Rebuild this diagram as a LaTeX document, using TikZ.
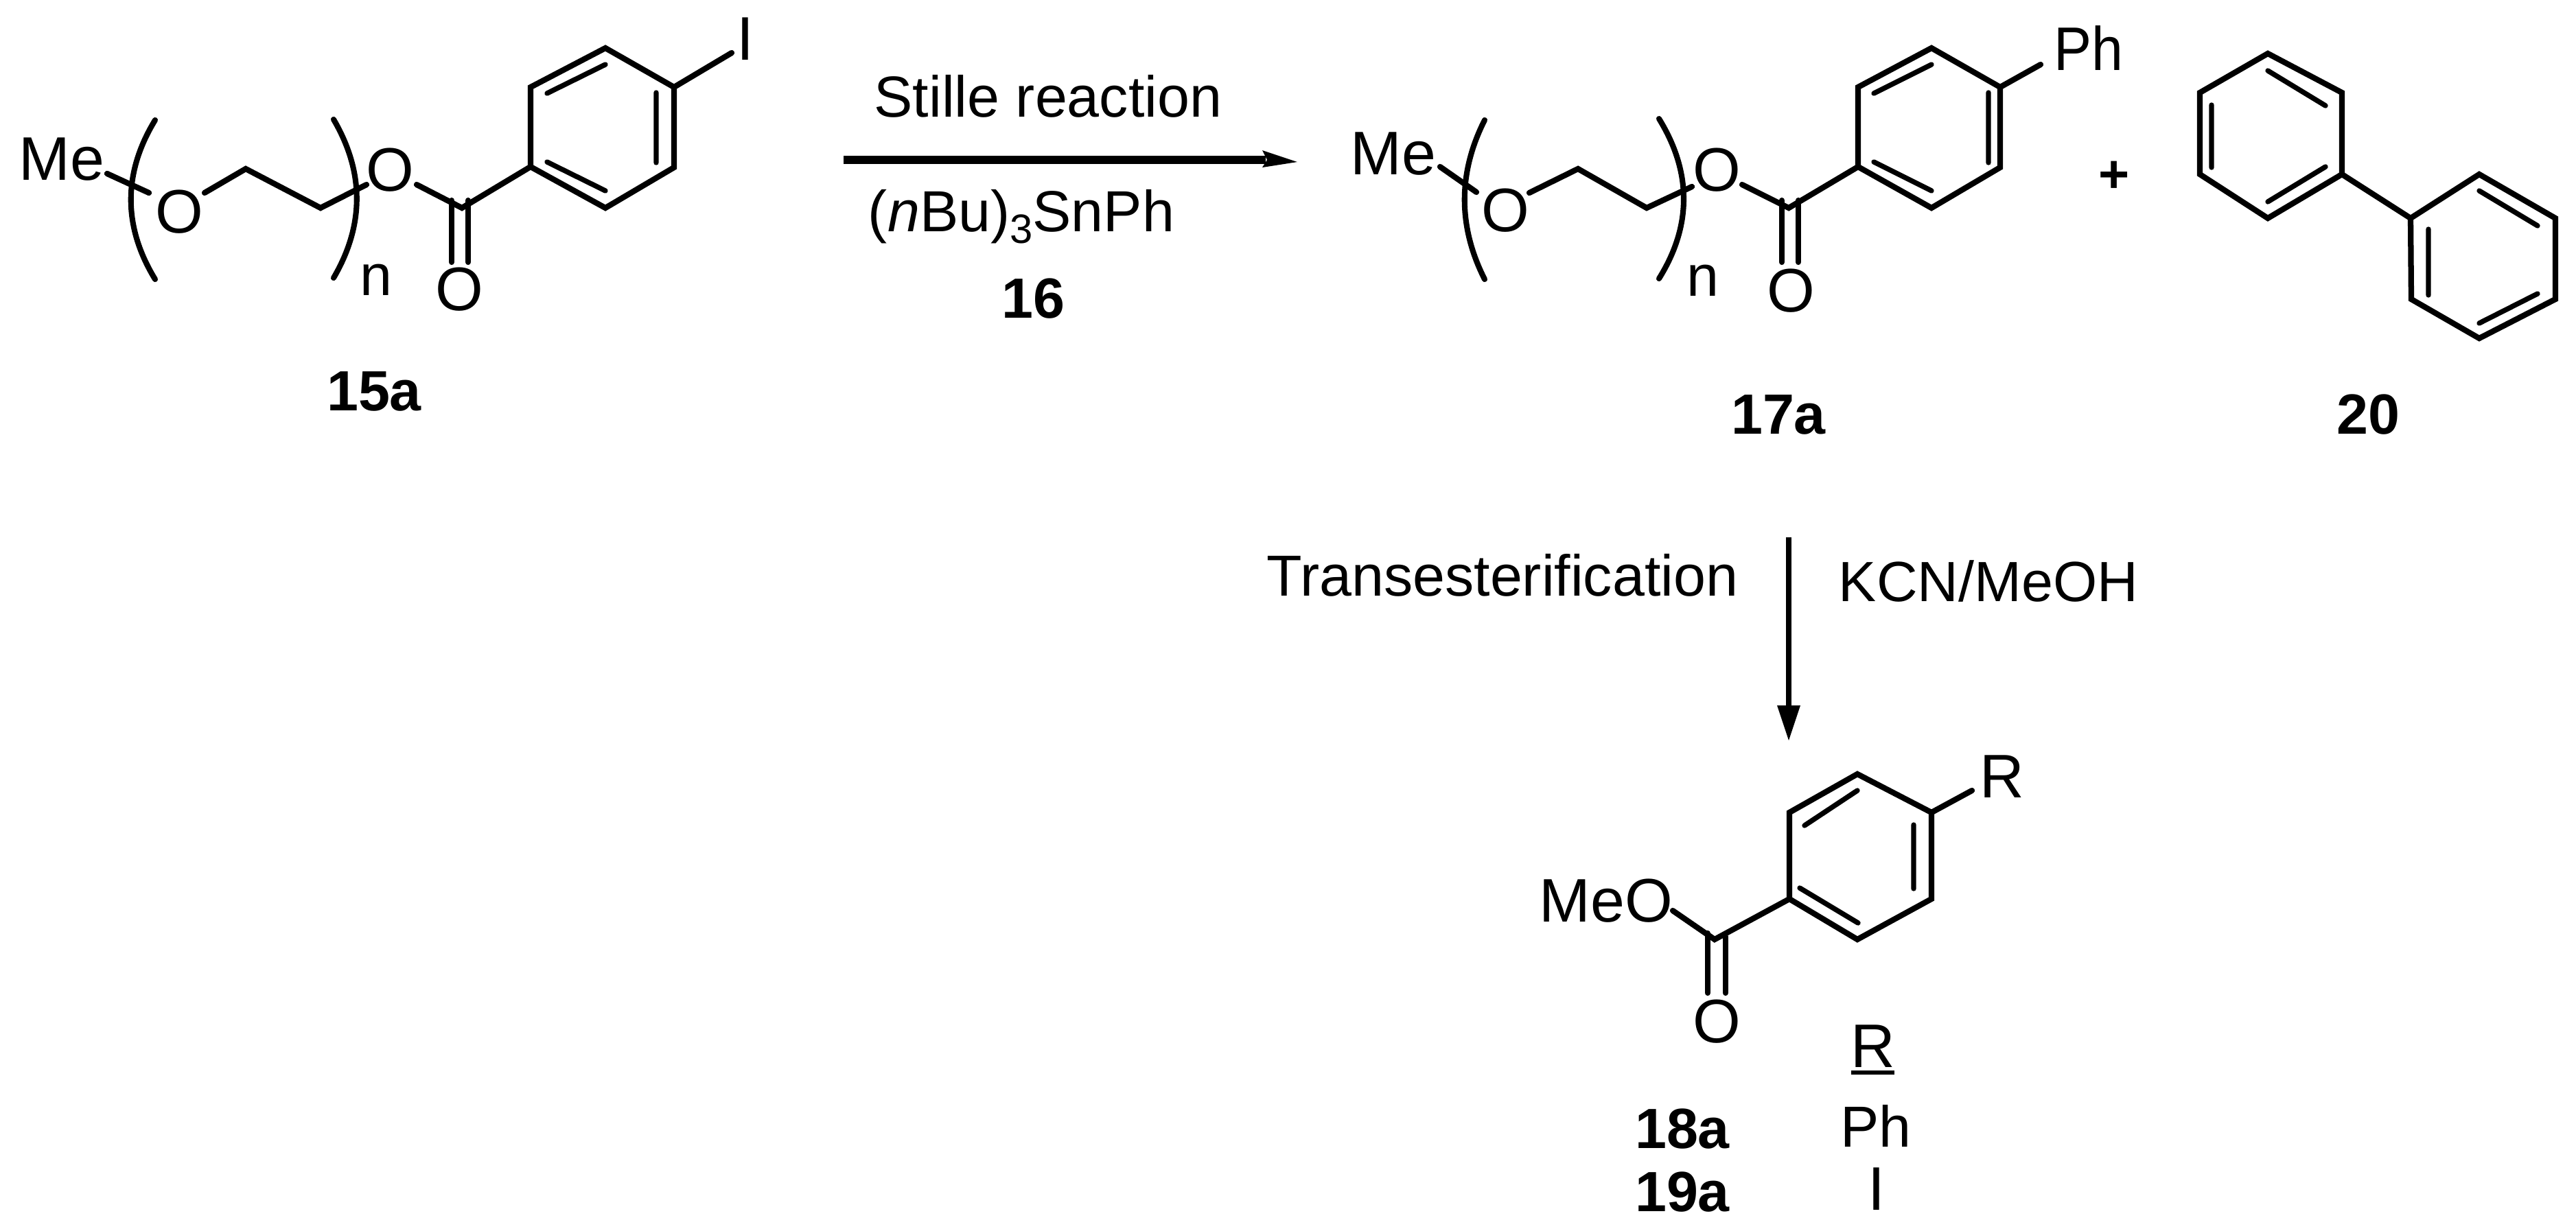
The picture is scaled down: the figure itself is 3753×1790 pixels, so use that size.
\documentclass[tikz,border=0pt]{standalone}
\usepackage{fontspec}
\setmainfont{Liberation Sans}
\tikzset{
  x=0.01cm,y=-0.01cm,
  bond/.style={line width=2.35pt,line cap=round,line join=miter,miter limit=10},
  innerbond/.style={line width=2.1pt,line cap=round},
  brack/.style={line width=2.3pt,line cap=round},
  txt/.style={anchor=base,inner sep=0pt,outer sep=0pt},
  lab/.style={txt,font=\fontsize{25.5}{25.5}\selectfont},
  labph/.style={txt,font=\fontsize{24}{24}\selectfont},
  rxn/.style={txt,font=\fontsize{24}{24}\selectfont},
  rxnb/.style={txt,font=\fontsize{23.5}{23.5}\selectfont},
  cmpd/.style={txt,font=\fontsize{23.5}{23.5}\selectfont\bfseries},
  plussign/.style={txt,font=\fontsize{22}{22}\selectfont\bfseries},
  thickarrow/.style={line width=3.5pt},
  thinarrow/.style={line width=2.4pt},
}
\begin{document}
\begin{tikzpicture}
\useasboundingbox (0,0) rectangle (3753,1790);
% ---------- 15a ----------
\coordinate (a1) at (882,70);  \coordinate (a2) at (982,127); \coordinate (a3) at (982,244);
\coordinate (a4) at (882,303); \coordinate (a5) at (773,243); \coordinate (a6) at (773,127);
\coordinate (ai1) at (882,94); \coordinate (ai2) at (797,136);
\coordinate (ai3) at (956,135);\coordinate (ai4) at (956,237);
\coordinate (ai5) at (797,236);\coordinate (ai6) at (882,278);
\coordinate (aI) at (1066,77);
\coordinate (aC) at (673,303); \coordinate (aOs) at (607,269);
\coordinate (aD1a) at (658,292); \coordinate (aD1b) at (658,382);
\coordinate (aD2a) at (682,292); \coordinate (aD2b) at (682,382);
\coordinate (ac1) at (298,281); \coordinate (ac2) at (358,246);
\coordinate (ac3) at (467,303); \coordinate (ac4) at (534,269);
\coordinate (am1) at (156,253); \coordinate (am2) at (217,281);
\coordinate (abl1) at (226,175); \coordinate (abla) at (179,252); \coordinate (ablb) at (179,330); \coordinate (abl2) at (226,407);
\coordinate (abr1) at (486,174); \coordinate (abra) at (531,251); \coordinate (abrb) at (531,328); \coordinate (abr2) at (486,405);
\draw[bond] (a1)--(a2)--(a3)--(a4)--(a5)--(a6)--cycle;
\draw[innerbond] (ai1)--(ai2) (ai3)--(ai4) (ai5)--(ai6);
\draw[bond] (a2)--(aI) (a5)--(aC)--(aOs);
\draw[bond] (aD1a)--(aD1b) (aD2a)--(aD2b);
\draw[bond] (ac1)--(ac2)--(ac3)--(ac4) (am1)--(am2);
\draw[brack] (abl1) .. controls (abla) and (ablb) .. (abl2);
\draw[brack] (abr1) .. controls (abra) and (abrb) .. (abr2);
\node[lab] (aMe) at (90,262) {Me};
\node[lab] (aO1) at (261,339) {O};
\node[lab] (aO2) at (568,278) {O};
\node[lab] (aO3) at (669,452) {O};
\node[lab] (aIt) at (1086,87) {I};
\node[labph] (an) at (548,430) {n};
\node[cmpd] (l15) at (545,598) {15a};
% ---------- Stille arrow ----------
\coordinate (s1) at (1229,233); \coordinate (s2) at (1844,233);
\coordinate (sh1) at (1839,219); \coordinate (sh2) at (1890,236); \coordinate (sh3) at (1839,244); \coordinate (sh4) at (1846,233);
\draw[thickarrow] (s1)--(s2);
\fill (sh1)--(sh2)--(sh3)--(sh4)--cycle;
\node[rxn] (t1) at (1527,170) {Stille reaction};
\node[rxn] (t2) at (1488,337) {(\textit{n}Bu)\raisebox{-5pt}{\fontsize{17}{17}\selectfont 3}SnPh};
\node[cmpd] (l16) at (1505,463) {16};
% ---------- 17a ----------
\coordinate (b1) at (2814,70);  \coordinate (b2) at (2914,127); \coordinate (b3) at (2914,244);
\coordinate (b4) at (2814,303); \coordinate (b5) at (2707,243); \coordinate (b6) at (2707,127);
\coordinate (bi1) at (2814,94); \coordinate (bi2) at (2730,136);
\coordinate (bi3) at (2897,135);\coordinate (bi4) at (2897,237);
\coordinate (bi5) at (2730,236);\coordinate (bi6) at (2814,278);
\coordinate (bPh) at (2973,94);
\coordinate (bC) at (2606,303); \coordinate (bOs) at (2538,269);
\coordinate (bD1a) at (2596,292); \coordinate (bD1b) at (2596,382);
\coordinate (bD2a) at (2620,292); \coordinate (bD2b) at (2620,382);
\coordinate (bc1) at (2228,281); \coordinate (bc2) at (2299,246);
\coordinate (bc3) at (2399,303); \coordinate (bc4) at (2465,272);
\coordinate (bm1) at (2098,243); \coordinate (bm2) at (2151,280);
\coordinate (bbl1) at (2163,175); \coordinate (bbla) at (2124,252); \coordinate (bblb) at (2124,330); \coordinate (bbl2) at (2163,407);
\coordinate (bbr1) at (2417,173); \coordinate (bbra) at (2465,251); \coordinate (bbrb) at (2465,329); \coordinate (bbr2) at (2417,406);
\draw[bond] (b1)--(b2)--(b3)--(b4)--(b5)--(b6)--cycle;
\draw[innerbond] (bi1)--(bi2) (bi3)--(bi4) (bi5)--(bi6);
\draw[bond] (b2)--(bPh) (b5)--(bC)--(bOs);
\draw[bond] (bD1a)--(bD1b) (bD2a)--(bD2b);
\draw[bond] (bc1)--(bc2)--(bc3)--(bc4) (bm1)--(bm2);
\draw[brack] (bbl1) .. controls (bbla) and (bblb) .. (bbl2);
\draw[brack] (bbr1) .. controls (bbra) and (bbrb) .. (bbr2);
\node[lab] (bMe) at (2030,254) {Me};
\node[lab] (bO1) at (2193,337) {O};
\node[lab] (bO2) at (2501,278) {O};
\node[lab] (bO3) at (2609,454) {O};
\node[lab] (bPht) at (3043,102) {\scalebox{.92}[1]{Ph}};
\node[labph] (bn) at (2481,431) {n};
\node[cmpd] (l17) at (2591,632) {17a};
% ---------- plus ----------
\node[plussign] (plus) at (3080,280) {+};
% ---------- 20 (biphenyl) ----------
\coordinate (c1) at (3304,78);  \coordinate (c2) at (3412,135); \coordinate (c3) at (3412,254);
\coordinate (c4) at (3304,318); \coordinate (c5) at (3205,254); \coordinate (c6) at (3205,135);
\coordinate (d1) at (3612,254); \coordinate (d2) at (3723,318); \coordinate (d3) at (3723,436);
\coordinate (d4) at (3612,493); \coordinate (d5) at (3513,436); \coordinate (d6) at (3512,318);
\coordinate (ci1) at (3304,103); \coordinate (ci2) at (3388,154);
\coordinate (ci3) at (3222,153); \coordinate (ci4) at (3222,244);
\coordinate (ci5) at (3304,294); \coordinate (ci6) at (3388,243);
\coordinate (di1) at (3612,278); \coordinate (di2) at (3697,329);
\coordinate (di3) at (3538,334); \coordinate (di4) at (3538,430);
\coordinate (di5) at (3612,471); \coordinate (di6) at (3697,428);
\draw[bond] (c1)--(c2)--(c3)--(c4)--(c5)--(c6)--cycle;
\draw[bond] (d1)--(d2)--(d3)--(d4)--(d5)--(d6)--cycle;
\draw[bond] (c3)--(d6);
\draw[innerbond] (ci1)--(ci2) (ci3)--(ci4) (ci5)--(ci6) (di1)--(di2) (di3)--(di4) (di5)--(di6);
\node[cmpd] (l20) at (3450,632) {20};
% ---------- vertical arrow ----------
\coordinate (v1) at (2606,783); \coordinate (v2) at (2606,1034);
\coordinate (vh1) at (2589,1028); \coordinate (vh2) at (2606,1079); \coordinate (vh3) at (2623,1028);
\draw[thinarrow] (v1)--(v2);
\fill (vh1)--(vh2)--(vh3)--cycle;
\node[rxn] (t3) at (2189,868) {Transesterification};
\node[rxnb] (t4) at (2897,876) {KCN/MeOH};
% ---------- 18a / 19a ----------
\coordinate (e1) at (2706,1128); \coordinate (e2) at (2814,1184); \coordinate (e3) at (2814,1310);
\coordinate (e4) at (2706,1369); \coordinate (e5) at (2607,1310); \coordinate (e6) at (2607,1184);
\coordinate (ei1) at (2706,1152); \coordinate (ei2) at (2629,1203);
\coordinate (ei3) at (2788,1202); \coordinate (ei4) at (2788,1295);
\coordinate (ei5) at (2622,1294); \coordinate (ei6) at (2707,1345);
\coordinate (eR) at (2873,1152);
\coordinate (eC) at (2498,1369); \coordinate (eOs) at (2437,1327);
\coordinate (eD1a) at (2488,1360); \coordinate (eD1b) at (2488,1447);
\coordinate (eD2a) at (2514,1365); \coordinate (eD2b) at (2514,1447);
\draw[bond] (e1)--(e2)--(e3)--(e4)--(e5)--(e6)--cycle;
\draw[innerbond] (ei1)--(ei2) (ei3)--(ei4) (ei5)--(ei6);
\draw[bond] (e2)--(eR) (e5)--(eC)--(eOs);
\draw[bond] (eD1a)--(eD1b) (eD2a)--(eD2b);
\node[lab] (eRt) at (2917,1162) {R};
\node[lab] (eMeO) at (2340,1343) {MeO};
\node[lab] (eO) at (2501,1519) {O};
\node[lab] (Rh) at (2729,1555) {\rlap{\rule[-3.2pt]{18pt}{1.8pt}}R};
\node[cmpd] (l18) at (2451,1673) {18a};
\node[cmpd] (l19) at (2451,1765) {19a};
\node[labph] (Rph) at (2733,1671) {Ph};
\node[lab] (Ri) at (2734,1763) {I};
\end{tikzpicture}
\end{document}
